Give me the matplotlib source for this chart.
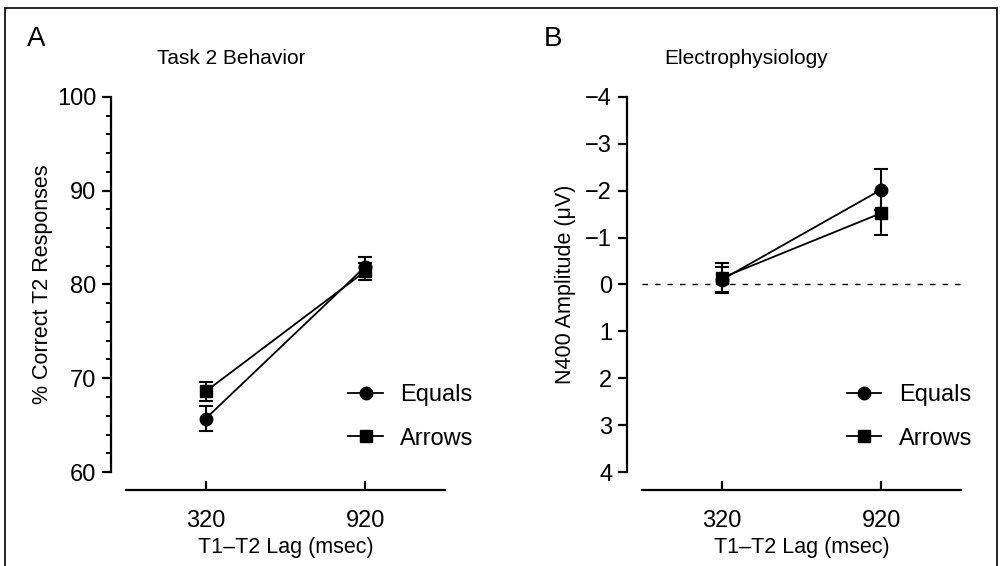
import matplotlib.pyplot as plt
from matplotlib.patches import Rectangle

plt.rcParams['font.family'] = ['Liberation Sans', 'DejaVu Sans']

lags = ["320", "920"]
series = ["Equals", "Arrows"]
markers = ["o", "s"]
msizes = [9, 8.5]

behav_mean = {"Equals": [65.7, 81.9], "Arrows": [68.6, 81.4]}
behav_err = {"Equals": [1.35, 1.0], "Arrows": [1.05, 0.9]}

n400_mean = {"Equals": [-0.10, -2.02], "Arrows": [-0.14, -1.52]}
n400_err = {"Equals": [0.27, 0.44], "Arrows": [0.32, 0.46]}


def style_axes(ax):
    ax.spines['top'].set_visible(False)
    ax.spines['right'].set_visible(False)
    ax.spines['left'].set_position(('outward', 11))
    ax.spines['bottom'].set_position(('outward', 13))
    ax.spines['left'].set_linewidth(1.6)
    ax.spines['bottom'].set_linewidth(1.6)
    ax.set_xlim(-0.5, 1.5)
    ax.set_xticks(range(len(lags)))
    ax.set_xticklabels(lags)
    ax.tick_params(axis='x', direction='in', length=6.5, width=1.6, labelsize=17, pad=14)
    ax.tick_params(axis='y', which='major', direction='out', length=6.5, width=1.6,
                   labelsize=17, pad=4)
    ax.tick_params(axis='y', which='minor', direction='out', length=3.5, width=1.4)
    ax.set_xlabel("T1\u2013T2 Lag (msec)", fontsize=15.5, labelpad=4)


def draw(ax, means, errs):
    x = range(len(lags))
    for name, m, ms in zip(series, markers, msizes):
        ax.errorbar(x, means[name], yerr=errs[name], fmt='none', ecolor='black',
                    elinewidth=1.5, capsize=4.7, capthick=1.5)
        ax.plot(x, means[name], '-' + m, color='black', markersize=ms,
                linewidth=1.3, label=name)


def add_legend(ax, xpos):
    ax.legend(loc='lower right', bbox_to_anchor=(xpos, 0.06), frameon=False,
              fontsize=17, handlelength=1.45, handletextpad=0.75, labelspacing=0.9,
              borderpad=0, borderaxespad=0)


fig = plt.figure(figsize=(10, 5.66), dpi=100)

axA = fig.add_axes([0.126, 0.166, 0.319, 0.663])
draw(axA, behav_mean, behav_err)
style_axes(axA)
axA.set_ylim(60, 100)
axA.set_yticks([60, 70, 80, 90, 100])
axA.set_yticks(range(60, 101, 2), minor=True)
axA.set_ylabel("% Correct T2 Responses", fontsize=15.5, labelpad=3)
add_legend(axA, 1.09)

axB = fig.add_axes([0.642, 0.166, 0.319, 0.663])
axB.axhline(0, color='black', linewidth=1.0, dashes=(4, 5))
draw(axB, n400_mean, n400_err)
style_axes(axB)
axB.set_ylim(4, -4)
axB.set_yticks(range(-4, 5))
axB.set_yticklabels([f"{v:d}".replace('-', '\u2212') for v in range(-4, 5)])
axB.set_ylabel("N400 Amplitude (\u03bcV)", fontsize=15.5, labelpad=7)
add_legend(axB, 1.035)

fig.text(0.231, 0.897, "Task 2 Behavior", ha='center', va='center', fontsize=15)
fig.text(0.746, 0.897, "Electrophysiology", ha='center', va='center', fontsize=15)
fig.text(0.027, 0.931, "A", ha='left', va='center', fontsize=20)
fig.text(0.544, 0.931, "B", ha='left', va='center', fontsize=20)

fig.patches.append(Rectangle((0.005, -0.1), 0.992, 1.086, transform=fig.transFigure,
                             fill=False, edgecolor='black', linewidth=1.2))

fig.savefig("out.png", dpi=100)
